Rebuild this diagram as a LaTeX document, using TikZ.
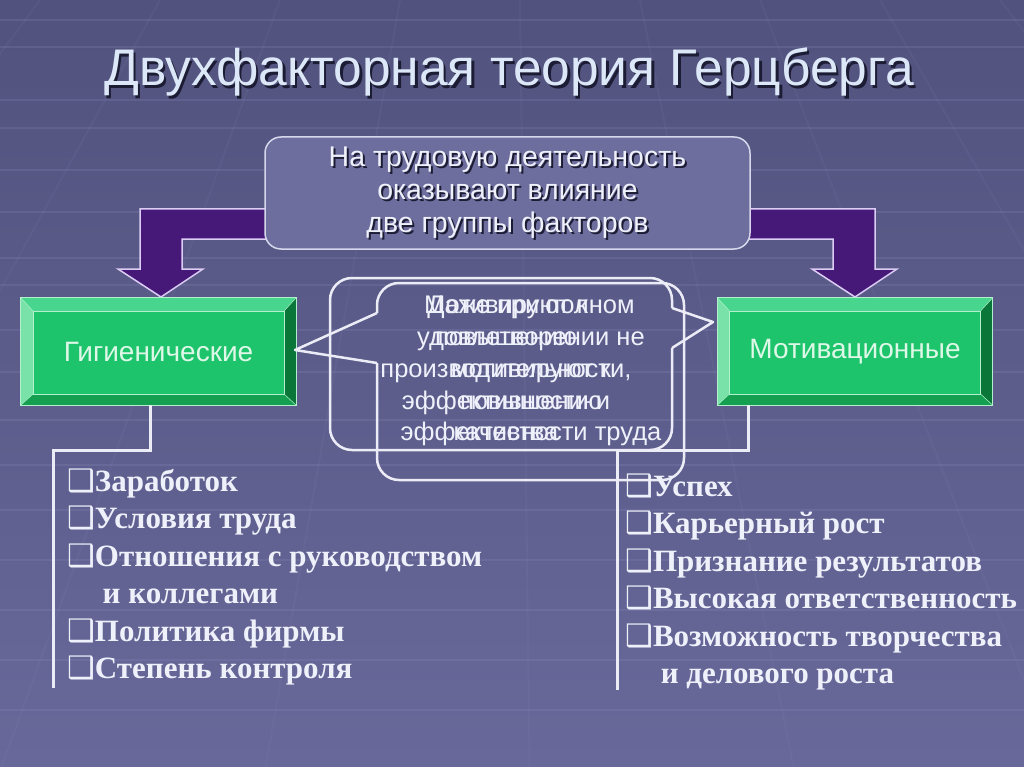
\documentclass[tikz,border=0pt]{standalone}
\usepackage{fontspec}
\setmainfont{Liberation Sans}
\newfontfamily\listfont{Liberation Serif}
\newfontfamily\symfont{DejaVu Sans}
\usetikzlibrary{calc}
\definecolor{bgtop}{RGB}{82,82,126}
\definecolor{bgbot}{RGB}{104,104,154}
\definecolor{gridcol}{RGB}{150,150,200}
\definecolor{boxfill}{RGB}{110,110,158}
\definecolor{boxline}{RGB}{215,215,235}
\definecolor{arrowfill}{RGB}{70,24,120}
\definecolor{arrowline}{RGB}{220,205,245}
\definecolor{gface}{RGB}{30,196,108}
\definecolor{gtop}{RGB}{72,214,142}
\definecolor{gleft}{RGB}{120,226,168}
\definecolor{gright}{RGB}{10,118,56}
\definecolor{gbot}{RGB}{20,160,80}
\definecolor{gedge}{RGB}{180,240,205}
\definecolor{gtext}{RGB}{222,248,232}
\definecolor{txtlight}{RGB}{238,240,250}
\definecolor{titlecol}{RGB}{220,232,248}
\definecolor{shadowcol}{RGB}{28,28,52}
\definecolor{linecol}{RGB}{236,236,246}
\newcommand\qbox{{\symfont\fontsize{31}{31}\selectfont ❑}}
\begin{document}
\begin{tikzpicture}[x=1pt,y=-1pt,
  titletext/.style={font=\fontsize{51.5}{60}\selectfont, inner sep=0},
  toptext/.style={font=\fontsize{28.5}{33}\selectfont, align=center, inner sep=0},
  topbox/.style={draw=boxline, line width=1.5, fill=boxfill, rounded corners=16,
    minimum width=485, minimum height=112, inner sep=0},
  farrow/.style={fill=arrowfill, draw=arrowline, line width=1.5, line join=miter},
  greenbox/.style={fill=gface, minimum width=275, minimum height=107, inner sep=0},
  greentext/.style={text=gtext, font=\fontsize{28}{32}\selectfont, inner sep=0},
  bevel/.style={draw=gedge, line width=0.8},
  callout/.style={draw=linecol, line width=2.5, line join=round},
  calltext/.style={text=txtlight, font=\fontsize{25.5}{31.75}\selectfont, align=center, inner sep=0},
  listtext/.style={text=txtlight, font=\listfont\bfseries\fontsize{31}{36}\selectfont,
    inner sep=0, anchor=base west},
  bracket/.style={draw=linecol, line width=3},
  gridline/.style={draw=gridcol, opacity=0.18, line width=2},
]
\useasboundingbox (0,0) rectangle (1024,767);
% background
\shade[top color=bgtop, bottom color=bgbot] (0,0) rectangle (1024,767);
\foreach \yy in {20,47,100,128,170,212,258,285,330,372,420,465,510,560,610,660,710}
  \draw[gridline] (0,\yy) -- (1024,\yy);
\foreach \xx in {40,160,280,400,520,640,760,880,1000}
  \draw[gridline, opacity=0.08] (\xx,0) -- ({512+(\xx-512)*2.2},767);

% title
\node[titletext, text=shadowcol] (titleS) at (511.5,75) {Двухфакторная теория Герцберга};
\node[titletext, text=titlecol] (title) at (509,72) {Двухфакторная теория Герцберга};

% purple arrows
\draw[farrow] (290,209) -- (140,209) -- (140,269) -- (118,269) -- (161,297)
  -- (203,269) -- (182,269) -- (182,239) -- (290,239);
\draw[farrow] (725,209) -- (875,209) -- (875,269) -- (897,269) -- (855,297)
  -- (812,269) -- (833,269) -- (833,239) -- (725,239);

% top box
\node[topbox] (top) at (507.5,193) {};
\node[toptext, text=shadowcol] (topS) at (509.5,195) {На трудовую деятельность\\оказывают влияние\\две группы факторов};
\node[toptext, text=txtlight] (topT) at (507.5,193) {На трудовую деятельность\\оказывают влияние\\две группы факторов};

% green boxes
\node[greenbox] (hyg) at (158.5,351.5) {};
\node[greenbox] (mot) at (855,351.5) {};
\foreach \n in {hyg,mot}{
  \fill[gtop] (\n.north west) -- (\n.north east) -- ($(\n.north east)+(-12,13)$) -- ($(\n.north west)+(12,13)$) -- cycle;
  \fill[gleft] (\n.north west) -- ($(\n.north west)+(12,13)$) -- ($(\n.south west)+(12,-11)$) -- (\n.south west) -- cycle;
  \fill[gright] (\n.north east) -- ($(\n.north east)+(-12,13)$) -- ($(\n.south east)+(-12,-11)$) -- (\n.south east) -- cycle;
  \fill[gbot] (\n.south west) -- ($(\n.south west)+(12,-11)$) -- ($(\n.south east)+(-12,-11)$) -- (\n.south east) -- cycle;
  \draw[bevel] (\n.north west) rectangle (\n.south east);
  \draw[bevel, line width=0.5] ($(\n.north west)+(12,13)$) rectangle ($(\n.south east)+(-12,-11)$);
  \draw[bevel, line width=0.5] (\n.north west) -- ($(\n.north west)+(12,13)$)
    (\n.north east) -- ($(\n.north east)+(-12,13)$)
    (\n.south west) -- ($(\n.south west)+(12,-11)$)
    (\n.south east) -- ($(\n.south east)+(-12,-11)$);
}
\node[greentext] (hygT) at (hyg) {Гигиенические};
\node[greentext] (motT) at (mot) {Мотивационные};

% callouts (overlapping, as in the picture)
\coordinate (tipR) at (713,322);
\coordinate (tipL) at (295,350);
\draw[callout, rounded corners=22] (672,348) -- (672,450) -- (330,450) -- (330,278) -- (672,278) -- (672,308);
\draw[callout] (672,308) -- (tipR) -- (672,348);
\draw[callout, rounded corners=22] (377,363) -- (377,480) -- (684,480) -- (684,283) -- (377,283) -- (377,313);
\draw[callout] (377,313) -- (tipL) -- (377,363);
\node[calltext] (calloutA) at (506,371) {\strut Мотивируют к\\повышению\\производительности,\\эффективности и\\качества\strut};
\node[calltext] (calloutB) at (531,371) {\strut Даже при полном\\удовлетворении не\\мотивируют к\\повышению\\эффективности труда\strut};

% brackets
\coordinate (hk1) at (150,450);
\coordinate (hk2) at (53,450);
\coordinate (hend) at (53,688);
\draw[bracket] (hyg.south -| hk1) -- (hk1) -- (hk2) -- (hend);
\coordinate (mk1) at (748,450);
\coordinate (mk2) at (617,450);
\coordinate (mend) at (617,690);
\draw[bracket] (mot.south -| mk1) -- (mk1) -- (mk2) -- (mend);

% lists
\node[listtext] (h1) at (67,491) {\qbox Заработок};
\node[listtext] (h2) at (67,528.5) {\qbox Условия труда};
\node[listtext] (h3) at (67,566) {\qbox Отношения с руководством};
\node[listtext] (h4) at (67,603.5) {\phantom{\qbox} и коллегами};
\node[listtext] (h5) at (67,641) {\qbox Политика фирмы};
\node[listtext] (h6) at (67,678.5) {\qbox Степень контроля};

\node[listtext] (m1) at (625,496) {\qbox Успех};
\node[listtext] (m2) at (625,533.5) {\qbox Карьерный рост};
\node[listtext] (m3) at (625,571) {\qbox Признание результатов};
\node[listtext] (m4) at (625,608.5) {\qbox Высокая ответственность};
\node[listtext] (m5) at (625,646) {\qbox Возможность творчества};
\node[listtext] (m6) at (625,683.5) {\phantom{\qbox} и делового роста};
\end{tikzpicture}
\end{document}
